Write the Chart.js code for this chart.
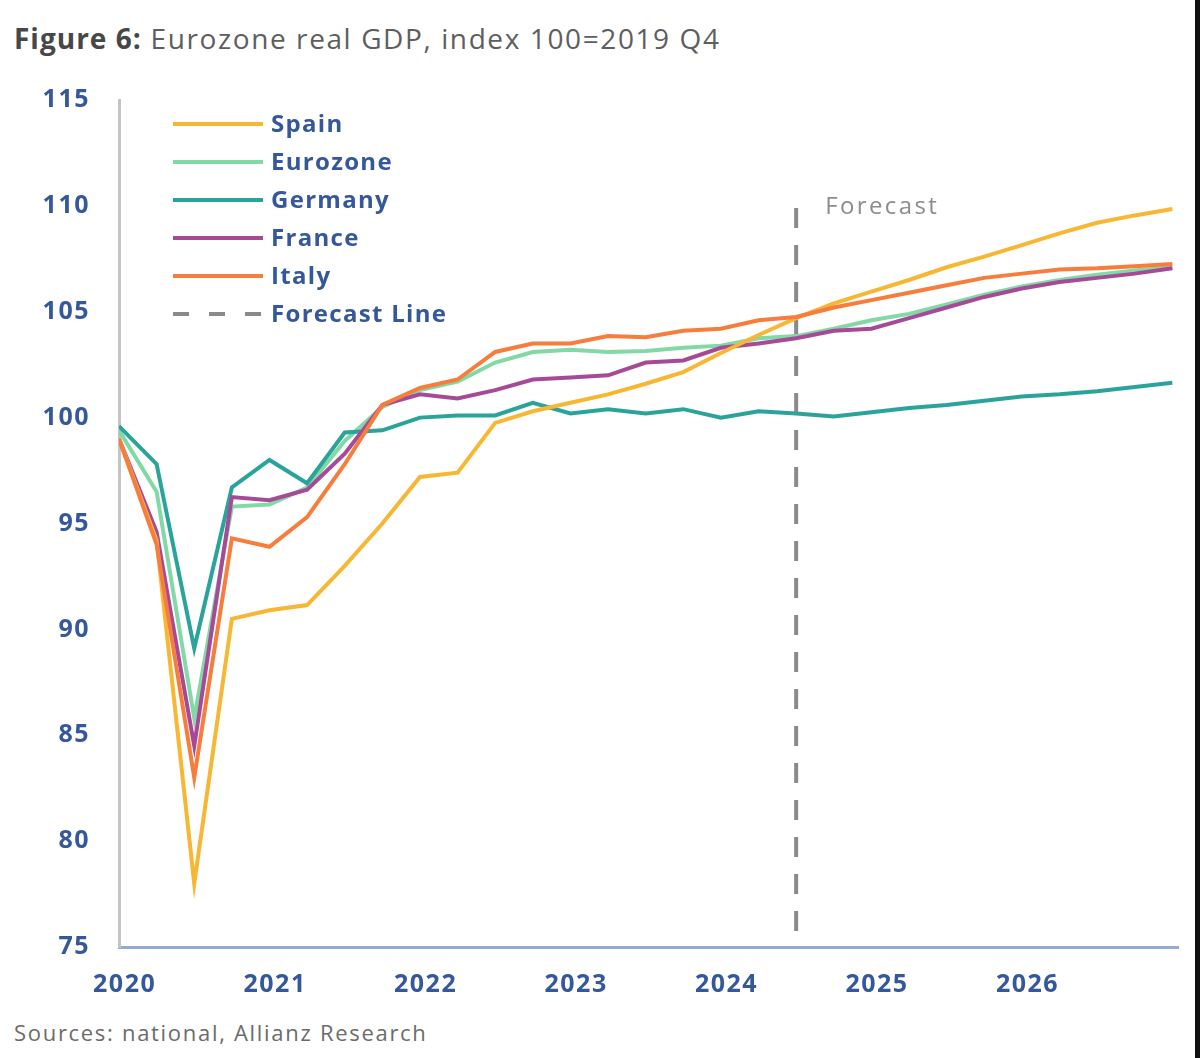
<!DOCTYPE html>
<html>
<head>
<meta charset="utf-8">
<script src="https://cdn.jsdelivr.net/npm/chart.js@4.4.1/dist/chart.umd.min.js"></script>
<style>
  body { margin: 0; background: #fff; width: 1200px; height: 1058px; overflow: hidden; position: relative; font-family: "Open Sans", sans-serif; }
  #title { position: absolute; left: 14px; top: 19px; font-size: 28px; letter-spacing: 1.6px; color: #5e5e5e; white-space: nowrap; }
  #title b { color: #474747; letter-spacing: 1px; }
  #wrap { position: absolute; left: 0; top: 0; width: 1200px; height: 1010px; }
  #source { position: absolute; left: 14px; top: 1017px; font-size: 22px; letter-spacing: 1.7px; color: #6b6b6b; white-space: nowrap; }
  #edge { position: absolute; right: 0; top: 0; width: 5px; height: 1058px; background: #111; }
</style>
</head>
<body>
<div id="title"><b>Figure 6:</b> Eurozone real GDP, index 100=2019 Q4</div>
<div id="wrap"><canvas id="gdp" width="1200" height="1010"></canvas></div>
<div id="source">Sources: national, Allianz Research</div>
<div id="edge"></div>
<script>
// quarterly points, 2019 Q4 .. 2026 Q4
const quarters = ['2019Q4',
  '2020Q1', '2020Q2', '2020Q3', '2020Q4', '2021Q1', '2021Q2', '2021Q3', '2021Q4',
  '2022Q1', '2022Q2', '2022Q3', '2022Q4', '2023Q1', '2023Q2', '2023Q3', '2023Q4',
  '2024Q1', '2024Q2', '2024Q3', '2024Q4', '2025Q1', '2025Q2', '2025Q3', '2025Q4',
  '2026Q1', '2026Q2', '2026Q3', '2026Q4'];
const yearLabels = ['2020', '2021', '2022', '2023', '2024', '2025', '2026'];
const yearTickAt = [0, 4, 8, 12, 16, 20, 24];

const spain    = [99.0, 94.2, 78.0, 90.5, 90.9, 91.15, 93.0, 95.0, 97.2, 97.4, 99.75, 100.3, 100.7, 101.1, 101.6, 102.15, 103.05, 103.9, 104.7, 105.4, 105.95, 106.5, 107.1, 107.6, 108.15, 108.7, 109.2, 109.55, 109.85];
const eurozone = [99.4, 96.5, 85.8, 95.8, 95.9, 96.7, 98.9, 100.5, 101.3, 101.7, 102.6, 103.1, 103.2, 103.1, 103.15, 103.3, 103.4, 103.75, 103.85, 104.2, 104.6, 104.9, 105.35, 105.8, 106.2, 106.5, 106.75, 106.95, 107.1];
const germany  = [99.6, 97.8, 89.1, 96.7, 98.0, 96.9, 99.3, 99.4, 100.0, 100.1, 100.1, 100.7, 100.2, 100.4, 100.2, 100.4, 100.0, 100.3, 100.2, 100.05, 100.25, 100.45, 100.6, 100.8, 101.0, 101.1, 101.25, 101.45, 101.65];
const france   = [99.0, 94.6, 84.5, 96.25, 96.1, 96.6, 98.3, 100.6, 101.1, 100.9, 101.3, 101.8, 101.9, 102.0, 102.6, 102.7, 103.3, 103.5, 103.75, 104.1, 104.2, 104.7, 105.2, 105.7, 106.1, 106.4, 106.6, 106.8, 107.05];
const italy    = [99.0, 94.0, 83.0, 94.3, 93.9, 95.3, 97.8, 100.6, 101.4, 101.8, 103.1, 103.5, 103.5, 103.85, 103.8, 104.1, 104.2, 104.6, 104.75, 105.2, 105.55, 105.9, 106.25, 106.6, 106.8, 107.0, 107.05, 107.15, 107.25];

const forecastAt = 18;              // 2024 Q2
const forecastSpan = [109.9, 75];   // drawn top -> bottom

const pts = arr => arr.map((v, i) => ({ x: i, y: v }));
const tickShift = 0.15;

function series(label, values, color, order) {
  return { label: label, data: pts(values), borderColor: color, backgroundColor: color,
    borderWidth: 4, pointRadius: 0, tension: 0, order: order };
}

// wider lettering for the axis labels
const spacing = {
  id: 'spacing',
  beforeUpdate(chart) { chart.ctx.letterSpacing = '1.5px'; },
  beforeDraw(chart) { chart.ctx.letterSpacing = '1.5px'; }
};

// legend drawn inside the plot, top left
const sideLegend = {
  id: 'sideLegend',
  afterDraw(chart) {
    const ctx = chart.ctx;
    ctx.save();
    chart.data.datasets.forEach((ds, i) => {
      const y = 124 + i * 38;
      ctx.strokeStyle = ds.borderColor;
      ctx.lineWidth = 4;
      ctx.setLineDash(ds.borderDash ? [16, 20] : []);
      ctx.beginPath();
      ctx.moveTo(173, y);
      ctx.lineTo(263, y);
      ctx.stroke();
      ctx.setLineDash([]);
      ctx.fillStyle = '#34589b';
      ctx.font = 'bold 24px "Open Sans"';
      ctx.letterSpacing = '1.3px';
      ctx.textBaseline = 'middle';
      ctx.fillText(ds.label, 271, y + 1);
    });
    ctx.restore();
  }
};

const forecastText = {
  id: 'forecastText',
  afterDraw(chart) {
    const ctx = chart.ctx;
    const x = chart.scales.x.getPixelForValue(forecastAt) + 29;
    const y = chart.scales.y.getPixelForValue(110);
    ctx.save();
    ctx.fillStyle = '#8c8c8c';
    ctx.font = '24px "Open Sans"';
    ctx.letterSpacing = '2.4px';
    ctx.textBaseline = 'middle';
    ctx.fillText('Forecast', x, y + 1);
    ctx.restore();
  }
};

new Chart(document.getElementById('gdp'), {
  type: 'line',
  data: {
    datasets: [
      series('Spain', spain, '#f8b733', 2),
      series('Eurozone', eurozone, '#82d9a6', 5),
      series('Germany', germany, '#2aa49b', 4),
      series('France', france, '#a64a98', 3),
      series('Italy', italy, '#f67d3b', 1),
      { label: 'Forecast Line', data: forecastSpan.map(v => ({ x: forecastAt, y: v })),
        borderColor: '#8a8a8a', borderWidth: 4, borderDash: [20, 17], pointRadius: 0, order: 6 }
    ]
  },
  options: {
    responsive: false,
    animation: false,
    layout: { padding: { top: 100, right: 22, left: 0, bottom: 0 } },
    plugins: { legend: { display: false }, tooltip: { enabled: false } },
    scales: {
      x: {
        type: 'linear', min: 0, max: 28.15,
        grid: { display: false, drawTicks: false },
        border: { color: '#93acd6', width: 3 },
        afterBuildTicks: s => { s.ticks = yearTickAt.map(v => ({ value: v + tickShift })); },
        afterFit: s => { s.height = 63; },
        ticks: {
          padding: 23, maxRotation: 0, autoSkip: false,
          color: '#34589b', font: { family: 'Open Sans', size: 25, weight: 'bold' },
          callback: (v, i) => yearLabels[i]
        }
      },
      y: {
        min: 75, max: 115,
        grid: { display: false, drawTicks: false },
        border: { color: '#c4c4c4', width: 3 },
        afterFit: s => { s.width = 119; },
        ticks: {
          stepSize: 5, padding: 29,
          color: '#34589b', font: { family: 'Open Sans', size: 25, weight: 'bold' }
        }
      }
    }
  },
  plugins: [spacing, sideLegend, forecastText]
});
</script>
</body>
</html>
